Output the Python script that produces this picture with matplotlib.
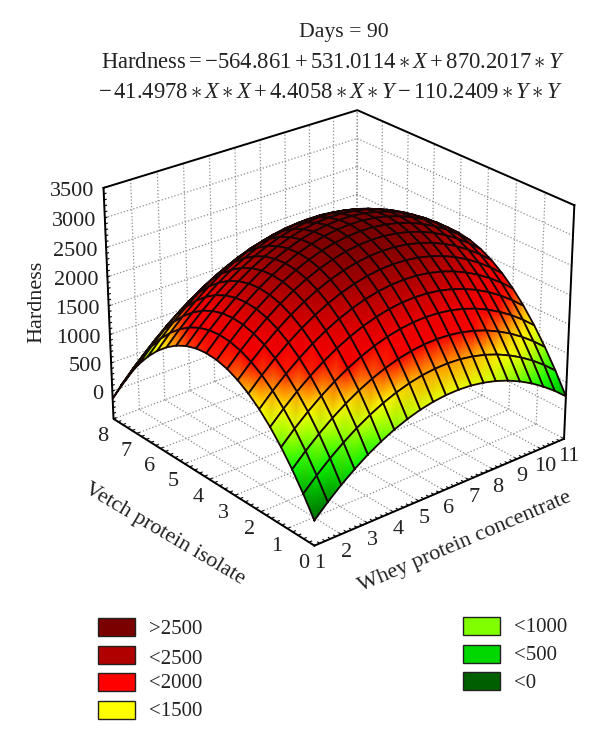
import matplotlib
matplotlib.use('Agg')
import matplotlib.pyplot as plt
import numpy as np
from matplotlib.colors import LinearSegmentedColormap, Normalize
from matplotlib.patches import Rectangle
from mpl_toolkits.mplot3d import proj3d

plt.rcParams['font.family'] = ['Liberation Serif', 'DejaVu Serif']
plt.rcParams['mathtext.fontset'] = 'custom'
plt.rcParams['mathtext.rm'] = 'Liberation Serif'
plt.rcParams['mathtext.it'] = 'Liberation Serif:italic'

# Datos de la superficie: filas = vetch, columnas = whey
whey = [1, 1.5, 2, 2.5, 3, 3.5, 4, 4.5, 5, 5.5, 6, 6.5, 7, 7.5, 8, 8.5, 9, 9.5, 10, 10.5, 11]
vetch = [0, 0.4, 0.8, 1.2, 1.6, 2, 2.4, 2.8, 3.2, 3.6, 4, 4.4, 4.8, 5.2, 5.6, 6, 6.4, 6.8, 7.2, 7.6, 8]
hardness = [
    [-75, 138, 331, 503, 655, 785, 895, 984, 1053, 1100, 1127, 1133, 1119, 1083, 1027, 951, 853, 735, 595, 436, 255],
    [257, 471, 665, 838, 990, 1122, 1233, 1323, 1392, 1441, 1468, 1475, 1462, 1427, 1372, 1296, 1199, 1082, 944, 785, 605],
    [554, 769, 964, 1138, 1291, 1423, 1535, 1626, 1696, 1745, 1774, 1782, 1769, 1736, 1681, 1606, 1510, 1394, 1256, 1098, 919],
    [815, 1032, 1227, 1402, 1556, 1689, 1802, 1894, 1965, 2015, 2045, 2053, 2041, 2009, 1955, 1881, 1786, 1670, 1534, 1377, 1199],
    [1042, 1259, 1455, 1631, 1786, 1920, 2034, 2126, 2198, 2249, 2280, 2289, 2278, 2246, 2194, 2121, 2026, 1912, 1776, 1620, 1443],
    [1233, 1451, 1648, 1825, 1981, 2116, 2230, 2323, 2396, 2448, 2480, 2490, 2480, 2449, 2397, 2325, 2232, 2118, 1983, 1828, 1651],
    [1389, 1608, 1806, 1983, 2140, 2276, 2391, 2485, 2559, 2612, 2644, 2656, 2646, 2616, 2565, 2494, 2402, 2289, 2155, 2000, 1825],
    [1509, 1729, 1928, 2106, 2264, 2401, 2517, 2612, 2687, 2741, 2774, 2786, 2777, 2748, 2698, 2628, 2536, 2424, 2291, 2137, 1963],
    [1595, 1815, 2015, 2194, 2353, 2490, 2607, 2704, 2779, 2834, 2868, 2881, 2873, 2845, 2796, 2726, 2636, 2524, 2392, 2239, 2066],
    [1645, 1866, 2067, 2247, 2406, 2545, 2663, 2760, 2836, 2892, 2926, 2941, 2934, 2906, 2858, 2789, 2700, 2589, 2458, 2306, 2133],
    [1659, 1882, 2083, 2264, 2425, 2564, 2683, 2781, 2858, 2914, 2950, 2965, 2959, 2933, 2885, 2817, 2728, 2619, 2489, 2338, 2166],
    [1639, 1862, 2065, 2246, 2407, 2548, 2667, 2766, 2844, 2902, 2938, 2954, 2949, 2923, 2877, 2810, 2722, 2613, 2484, 2334, 2163],
    [1583, 1807, 2010, 2193, 2355, 2496, 2617, 2717, 2796, 2854, 2891, 2908, 2904, 2879, 2834, 2767, 2680, 2573, 2444, 2295, 2125],
    [1492, 1717, 1921, 2105, 2268, 2410, 2531, 2632, 2711, 2771, 2809, 2826, 2823, 2799, 2755, 2689, 2603, 2496, 2369, 2220, 2051],
    [1365, 1591, 1796, 1981, 2145, 2288, 2410, 2511, 2592, 2652, 2691, 2710, 2707, 2684, 2641, 2576, 2491, 2385, 2258, 2111, 1942],
    [1204, 1430, 1637, 1822, 1987, 2130, 2254, 2356, 2437, 2498, 2538, 2558, 2556, 2534, 2491, 2428, 2343, 2238, 2112, 1966, 1798],
    [1007, 1234, 1441, 1628, 1793, 1938, 2062, 2165, 2248, 2309, 2350, 2371, 2370, 2349, 2307, 2244, 2161, 2056, 1931, 1786, 1619],
    [774, 1003, 1211, 1398, 1564, 1710, 1835, 1939, 2022, 2085, 2127, 2148, 2148, 2128, 2087, 2025, 1942, 1839, 1715, 1570, 1404],
    [507, 736, 945, 1133, 1300, 1447, 1573, 1678, 1762, 1825, 1868, 1890, 1891, 1872, 1832, 1771, 1689, 1586, 1463, 1319, 1155],
    [204, 435, 644, 833, 1001, 1149, 1275, 1381, 1466, 1531, 1574, 1597, 1599, 1581, 1541, 1481, 1400, 1299, 1176, 1033, 869],
    [-134, 97, 308, 498, 667, 815, 942, 1049, 1135, 1200, 1245, 1269, 1272, 1254, 1216, 1156, 1076, 976, 854, 712, 549],
]

x_ticks = [1, 2, 3, 4, 5, 6, 7, 8, 9, 10, 11]
y_ticks = [0, 1, 2, 3, 4, 5, 6, 7, 8]
z_ticks = [0, 500, 1000, 1500, 2000, 2500, 3000, 3500]

legend_left = ['>2500', '<2500', '<2000', '<1500']
legend_right = ['<1000', '<500', '<0']
legend_left_colors = ['#7a0000', '#b00000', '#ff0000', '#ffff00']
legend_right_colors = ['#80ff00', '#00d800', '#006000']

# Escala de color de la superficie
color_levels = [-500, -134, 100, 257, 554, 700, 815, 1042, 1233, 1389, 1509, 1595, 1700, 2000, 2400, 2700, 2950, 3500]
color_values = ['#005000', '#006000', '#008000', '#00a800', '#00f800', '#20ff00', '#60ff00', '#d0ff00', '#ffff00',
                '#ffc800', '#ff8000', '#ff4000', '#f80000', '#ee0000', '#b80000', '#900000', '#780000', '#780000']

zmin, zmax = -500, 3500
norm = Normalize(zmin, zmax)
cmap = LinearSegmentedColormap.from_list('hardness', [(norm(l), c) for l, c in zip(color_levels, color_values)])

fig = plt.figure(figsize=(6, 7.43), dpi=100)
ax = fig.add_axes([0.0, 0.165, 1.097, 0.8], projection='3d')
ax.set_proj_type('persp', focal_length=0.8)
ax.view_init(elev=26, azim=230.3)
ax.set_box_aspect((1, 1, 0.79), zoom=0.865)
ax.set_xlim(1, 11, view_margin=0)
ax.set_ylim(0, 8, view_margin=0)
ax.set_zlim(zmin, zmax, view_margin=0)
ax.set_axis_off()

# Rejilla punteada del piso y las dos paredes del fondo
grid = dict(color='#8c8c8c', ls=':', lw=0.9)
for x in x_ticks:
    ax.plot([x, x], [0, 8], [zmin, zmin], **grid)
    ax.plot([x, x], [8, 8], [zmin, zmax], **grid)
for y in y_ticks:
    ax.plot([1, 11], [y, y], [zmin, zmin], **grid)
    ax.plot([11, 11], [y, y], [zmin, zmax], **grid)
for z in z_ticks:
    ax.plot([1, 11], [8, 8], [z, z], **grid)
    ax.plot([11, 11], [0, 8], [z, z], **grid)

# Contorno de la caja
box = dict(color='black', lw=1.4)
ax.plot([1, 1, 1], [0, 8, 8], [zmin, zmin, zmax], **box)
ax.plot([1, 11, 11], [0, 0, 0], [zmin, zmin, zmin], **box)
ax.plot([11, 11], [0, 0], [zmin, zmax], **box)
ax.plot([1, 11, 11], [8, 8, 0], [zmax, zmax, zmax], **box)

# Marcas menores
for x in np.arange(1, 11.01, 0.2):
    ax.plot([x, x], [0, 0.08], [zmin, zmin], color='black', lw=0.8)
for y in np.arange(0, 8.01, 0.2):
    ax.plot([1, 1.1], [y, y], [zmin, zmin], color='black', lw=0.8)
for z in np.arange(zmin, zmax + 1, 100):
    ax.plot([1, 1.08], [8, 8], [z, z], color='black', lw=0.8)

fig.canvas.draw()
M = ax.get_proj()


def to_pixels(xs, ys, zs):
    px, py, pz = proj3d.proj_transform(np.asarray(xs, float), np.asarray(ys, float), np.asarray(zs, float), M)
    d = ax.transData.transform(np.column_stack([px, py]))
    return d[:, 0], 743 - d[:, 1], pz


# Capa 2D a pixeles, encima de la caja 3D
over = fig.add_axes([0, 0, 1, 1], facecolor='none')
over.set_xlim(0, 600)
over.set_ylim(743, 0)
over.set_autoscale_on(False)
over.axis('off')

X, Y = np.meshgrid(whey, vetch)
Z = np.array(hardness, float)
sx, sy, sz = to_pixels(X.ravel(), Y.ravel(), Z.ravel())
sx = sx.reshape(Z.shape)
sy = sy.reshape(Z.shape)
sz = sz.reshape(Z.shape)

# Celdas de atras hacia adelante; el degradado lo hace tripcolor con gouraud
cells = [(j, i) for j in range(Z.shape[0] - 1) for i in range(Z.shape[1] - 1)]
cells.sort(key=lambda c: -sz[c[0]:c[0] + 2, c[1]:c[1] + 2].mean())
for n, (j, i) in enumerate(cells):
    js = [j, j, j + 1, j + 1]
    its = [i, i + 1, i + 1, i]
    qx = sx[js, its]
    qy = sy[js, its]
    over.tripcolor(qx, qy, [[0, 1, 2], [0, 2, 3]], Z[js, its], shading='gouraud', cmap=cmap, norm=norm, zorder=2 + n)
    over.plot(np.append(qx, qx[0]), np.append(qy, qy[0]), color='#150505', lw=1.3, zorder=2 + n, solid_joinstyle='round')

tick_font = 16
for x in x_ticks:
    px, py, _ = to_pixels([x], [0], [zmin])
    over.text(px[0] + 5, py[0] + 18, str(x), fontsize=tick_font, ha='center', va='center', color='#222222')
for y in y_ticks:
    px, py, _ = to_pixels([1], [y], [zmin])
    over.text(px[0] - 11, py[0] + 18, str(y), fontsize=tick_font, ha='center', va='center', color='#222222')
for z in z_ticks:
    px, py, _ = to_pixels([1], [8], [z])
    over.text(px[0] - 9, py[0] + 3.5, str(z), fontsize=tick_font, ha='right', va='center', color='#222222')

over.text(37, 302, 'Hardness', fontsize=16, rotation=90, ha='center', va='center', color='#222222')
over.text(165, 534, 'Vetch protein isolate', fontsize=16, rotation=-30.5, ha='center', va='center', color='#222222')
over.text(465, 542, 'Whey protein concentrate', fontsize=16, rotation=23.2, ha='center', va='center', color='#222222')

# Titulo
over.text(344, 32, 'Days = 90', fontsize=15.7, ha='center', va='center', color='#222222')
over.text(333, 63, r'$\mathrm{Hardness}=-564.861+531.0114\ast X+870.2017\ast Y$', fontsize=16.3, ha='center', va='center', color='#222222')
over.text(331, 93, r'$-\,41.4978\ast X\ast X+4.4058\ast X\ast Y-110.2409\ast Y\ast Y$', fontsize=16.3, ha='center', va='center', color='#222222')

# Leyenda
left_y = [627, 654.5, 682, 710]
right_y = [625.5, 653.5, 681]
for y0, label, col in zip(left_y, legend_left, legend_left_colors):
    over.add_patch(Rectangle((98, y0 - 9), 37, 18, fc=col, ec='#222222', lw=1, zorder=1000))
    over.text(149, y0 + (5 if label == '<2500' else 2), label, fontsize=15, ha='left', va='center', color='#222222')
for y0, label, col in zip(right_y, legend_right, legend_right_colors):
    over.add_patch(Rectangle((463, y0 - 9), 37, 18, fc=col, ec='#222222', lw=1, zorder=1000))
    over.text(514, y0 + 2, label, fontsize=15, ha='left', va='center', color='#222222')

fig.savefig('out.png', dpi=100)
